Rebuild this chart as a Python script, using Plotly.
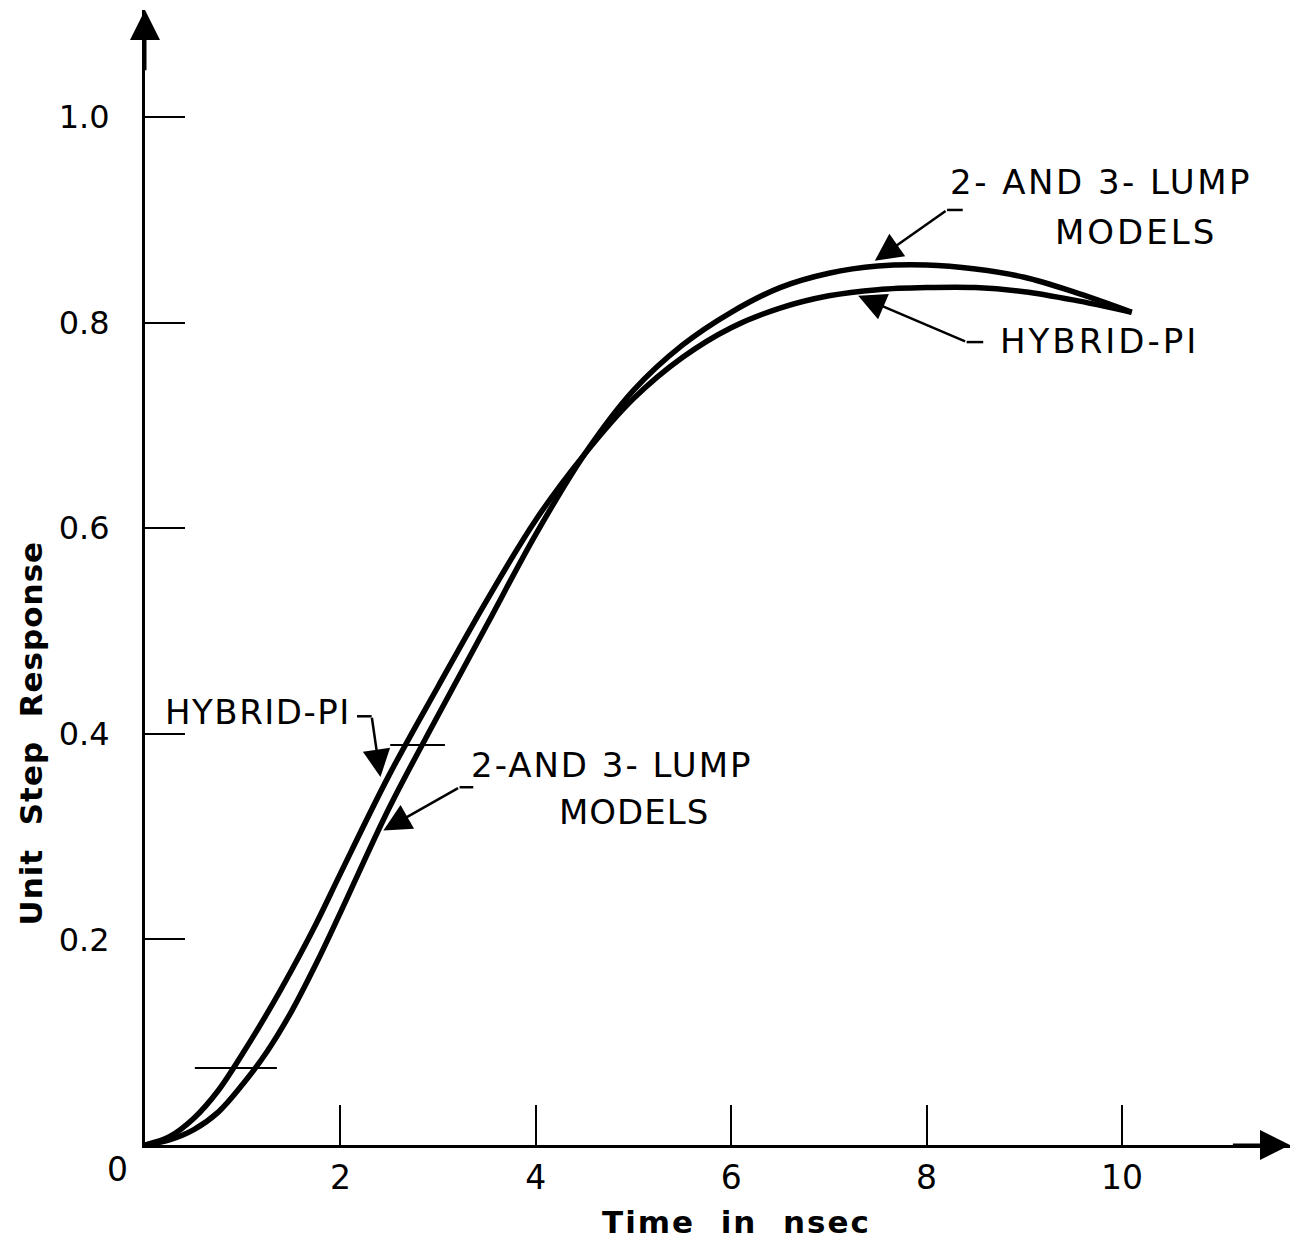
import plotly.graph_objects as go

# Time axis (ns) and unit step responses read for each model
time_ns = [0, 0.25, 0.5, 0.75, 1.0, 1.25, 1.5, 1.75, 2.0, 2.5, 3.0, 3.5, 4.0,
           4.5, 5.0, 5.5, 6.0, 6.5, 7.0, 7.5, 8.0, 8.5, 9.0, 9.5, 10.1]
hybrid_pi = [0, 0.008, 0.026, 0.053, 0.089, 0.128, 0.170, 0.215, 0.264, 0.360,
             0.446, 0.530, 0.608, 0.672, 0.726, 0.766, 0.795, 0.814, 0.826,
             0.832, 0.834, 0.834, 0.830, 0.822, 0.810]
lump_models = [0, 0.005, 0.015, 0.032, 0.059, 0.091, 0.130, 0.176, 0.226, 0.328,
               0.418, 0.506, 0.594, 0.672, 0.734, 0.778, 0.810, 0.834, 0.848,
               0.855, 0.856, 0.852, 0.844, 0.830, 0.810]

x_ticks = [2, 4, 6, 8, 10]
x_tick_text = ["2", "4", "6", "8", "10"]
y_ticks = [0.2, 0.4, 0.6, 0.8, 1.0]
y_tick_text = ["0.2", "0.4", "0.6", "0.8", "1.0"]

X_MAX = 11.72
Y_MAX = 1.104
FONT = "DejaVu Sans"


def spaced(txt, px=3):
    return f'<span style="letter-spacing:{px}px">{txt}</span>'


fig = go.Figure()
for name, vals in [("Hybrid-pi", hybrid_pi), ("2- and 3-lump models", lump_models)]:
    fig.add_trace(go.Scatter(
        x=time_ns, y=vals, mode="lines", name=name,
        line=dict(color="black", width=5.5, shape="spline", smoothing=1.0),
        showlegend=False, hoverinfo="skip", cliponaxis=False,
    ))

fig.update_layout(
    width=1309, height=1247,
    margin=dict(l=145, r=19, t=10, b=102),
    paper_bgcolor="white", plot_bgcolor="white",
    font=dict(family=FONT, color="black"),
)
fig.update_xaxes(
    range=[0, X_MAX], showgrid=False, zeroline=False,
    showline=True, linecolor="black", linewidth=3,
    ticks="inside", ticklen=40, tickwidth=2, tickcolor="black",
    tickvals=x_ticks, ticktext=x_tick_text,
    tickfont=dict(family=FONT, size=33, color="black"),
    ticklabelstandoff=1,
)
fig.update_yaxes(
    range=[0, Y_MAX], showgrid=False, zeroline=False,
    showline=True, linecolor="black", linewidth=3,
    ticks="inside", ticklen=40, tickwidth=2, tickcolor="black",
    tickvals=y_ticks, ticktext=y_tick_text,
    tickfont=dict(family=FONT, size=32, color="black"),
    ticklabelstandoff=26,
)

# axis arrowheads
fig.add_annotation(x=X_MAX, y=0, ax=X_MAX - 0.6, ay=0, xref="x", yref="y",
                   axref="x", ayref="y", text="", showarrow=True,
                   arrowhead=2, arrowsize=2, arrowwidth=3, arrowcolor="black")
fig.add_annotation(x=0, y=Y_MAX, ax=0, ay=Y_MAX - 0.06, xref="x", yref="y",
                   axref="x", ayref="y", text="", showarrow=True,
                   arrowhead=2, arrowsize=2, arrowwidth=3, arrowcolor="black")

# origin label (shared by both axes)
fig.add_annotation(x=-0.0236, y=-0.022, xref="paper", yref="paper", text="0",
                   xanchor="center", yanchor="middle",
                   showarrow=False, font=dict(family=FONT, size=33))

# axis titles
fig.add_annotation(x=0.517, y=-0.068, xref="paper", yref="paper",
                   xanchor="center", yanchor="middle",
                   text="<b>" + spaced("Time\u00a0 in\u00a0 nsec", 2) + "</b>",
                   showarrow=False, font=dict(family=FONT, size=31))
fig.add_annotation(x=-0.1, y=0.363, xref="paper", yref="paper",
                   xanchor="center", yanchor="middle",
                   text="<b>" + spaced("Unit\u00a0 Step\u00a0 Response", 1) + "</b>",
                   showarrow=False, textangle=-90, font=dict(family=FONT, size=31))

# short horizontal reference marks on the curves
for x0, x1, yv in [(0.51, 1.35, 0.075), (2.51, 3.07, 0.389)]:
    fig.add_shape(type="line", x0=x0, x1=x1, y0=yv, y1=yv, xref="x", yref="y",
                  line=dict(color="black", width=2))

# curve labels: (left x, y, text, letter spacing)
labels = [
    (8.22, 0.937, "2- AND 3- LUMP", 2.5),
    (9.29, 0.888, "MODELS", 3),
    (8.73, 0.782, "HYBRID-PI", 3),
    (0.18, 0.421, "HYBRID-PI", 1.5),
    (3.32, 0.370, "2-AND 3- LUMP", 2),
    (4.22, 0.324, "MODELS", 1),
]
for xl, yl, txt, sp in labels:
    fig.add_annotation(x=xl, y=yl, xref="x", yref="y", text=spaced(txt, sp),
                       showarrow=False, xanchor="left", yanchor="middle",
                       font=dict(family=FONT, size=34))

# leader lines: short horizontal stub + arrow to the curve
leaders = [
    # (stub x0, stub x1, stub y, tip x, tip y)
    (8.37, 8.21, 0.9095, 7.47, 0.860),
    (8.58, 8.41, 0.781, 7.30, 0.826),
    (2.17, 2.32, 0.417, 2.41, 0.358),
    (3.36, 3.22, 0.348, 2.44, 0.306),
]
for sx0, sx1, sy, tx, ty in leaders:
    fig.add_shape(type="line", x0=sx0, x1=sx1, y0=sy, y1=sy, xref="x", yref="y",
                  line=dict(color="black", width=2.5))
    fig.add_annotation(x=tx, y=ty, ax=sx1, ay=sy, xref="x", yref="y",
                       axref="x", ayref="y", text="", showarrow=True,
                       arrowhead=2, arrowsize=2.2, arrowwidth=2.5,
                       arrowcolor="black")

fig.write_html("out.html")
